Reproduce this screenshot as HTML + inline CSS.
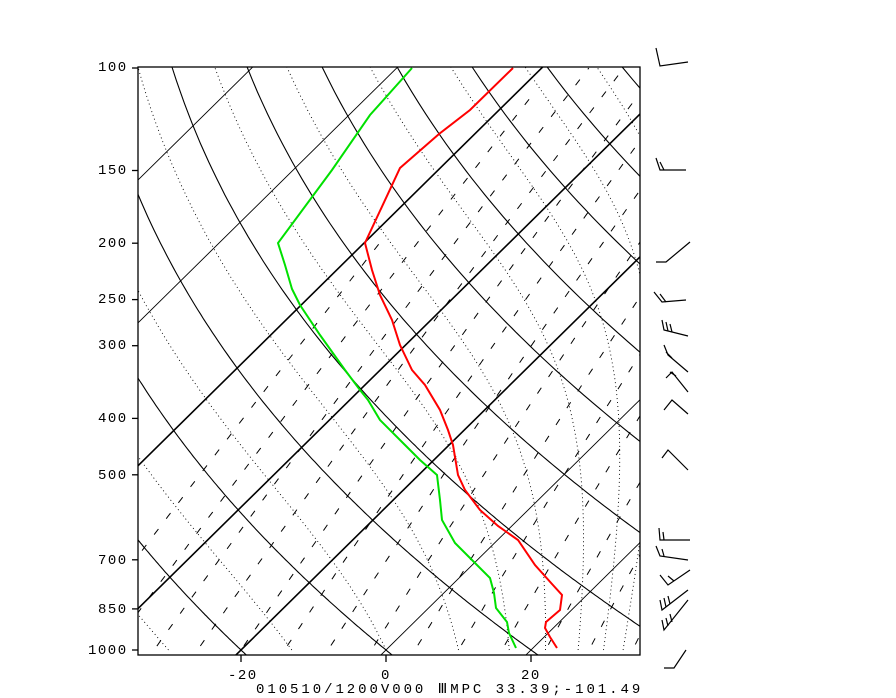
<!DOCTYPE html>
<html><head><meta charset="utf-8">
<style>
html,body{margin:0;padding:0;background:#fff;}
body{width:896px;height:697px;position:relative;overflow:hidden;font-family:"Liberation Mono",monospace;}
.l{position:absolute;font-size:14px;color:#000;letter-spacing:1.5px;line-height:14px;}
</style></head><body>
<svg id="s" width="896" height="697" style="position:absolute;left:0;top:0">
<defs><clipPath id="c"><rect x="138" y="67" width="502" height="588"/></clipPath></defs>
<g id="g" clip-path="url(#c)" fill="none"></g>
<g id="ax" stroke="#000" stroke-width="1.3" fill="none">
<rect x="138" y="67" width="502" height="588"/>
</g>
<g id="b" stroke="#000" stroke-width="1.2" fill="none"></g>
</svg>
<div class="l" style="left:98px;top:61px">100</div>
<div class="l" style="left:98px;top:164px">150</div>
<div class="l" style="left:98px;top:237px">200</div>
<div class="l" style="left:98px;top:293px">250</div>
<div class="l" style="left:98px;top:339px">300</div>
<div class="l" style="left:98px;top:412px">400</div>
<div class="l" style="left:98px;top:469px">500</div>
<div class="l" style="left:98px;top:554px">700</div>
<div class="l" style="left:98px;top:603px">850</div>
<div class="l" style="left:88px;top:644px">1000</div>
<div class="l" style="left:228px;top:669px">-20</div>
<div class="l" style="left:381px;top:669px">0</div>
<div class="l" style="left:521px;top:669px">20</div>
<div class="l" style="left:256px;top:683px;letter-spacing:2.95px">010510/1200V000  ⅢMPC   33.39;-101.49</div>
<script>
var NS="http://www.w3.org/2000/svg";
var g=document.getElementById('g'),ax=document.getElementById('ax'),bg=document.getElementById('b');
var KS=1.015;
function Y(p){return 68+582*Math.log10(p/100);}
function X(T,p){return 386+7.25*T+KS*(650-Y(p));}
function pl(par,pts,attrs){if(pts.length<2)return;var e=document.createElementNS(NS,'polyline');e.setAttribute('points',pts.map(function(a){return a[0].toFixed(1)+','+a[1].toFixed(1)}).join(' '));for(var k in attrs)e.setAttribute(k,attrs[k]);par.appendChild(e);}
for(var T=-160;T<=60;T+=20){var bold=(T==-60||T==-40||T==-20);
pl(g,[[X(T,1050),Y(1050)],[X(T,95),Y(95)]],{stroke:'#000','stroke-width':bold?1.6:0.9});}
for(var th=-180;th<=220;th+=20){var K=th+273.15,pts=[];for(var p=1050;p>=95;p-=5){var t=K*Math.pow(p/1000,0.2857)-273.15;pts.push([X(t,p),Y(p)]);}pl(g,pts,{stroke:'#000','stroke-width':1.1});}
function es(t){return 6.112*Math.exp(17.67*t/(t+243.5));}
[-30,-13,0,10,17,22,26.5,30,32.7,35].forEach(function(t0){
var lp=Math.log(1000),t=t0,arr=[];
for(var i=0;i<600;i++){var P=Math.exp(lp);if(P<95)break;arr.push([X(t,P),Y(P)]);var tk=t+273.15;var e=es(t),rs=0.622*e/(P-e);var L=2.5e6,Rd=287,cp=1004;var d=(Rd*tk+L*rs)/(cp+L*L*rs*0.622/(Rd*tk*tk));var dl=-0.005;t+=d*dl;lp+=dl;}
pl(g,arr,{stroke:'#000','stroke-width':0.9,'stroke-dasharray':'1,3'});});
for(var td=-44;td<=40;td+=6){var e0=es(td),w=622*e0/(1000-e0),arr=[];for(var p=1050;p>=95;p-=10){var e=w*p/(622+w),a=Math.log(e/6.112),t=243.5*a/(17.67-a);if(t<-58)break;arr.push([X(t,p),Y(p)]);}
pl(g,arr,{stroke:'#000','stroke-width':1,'stroke-dasharray':'7,13'});}
var red=[[513,68],[470,110],[439,134],[400,168],[365,243],[372,270],[380,295],[392,320],[400,345],[412,370],[425,385],[440,410],[448,430],[453,445],[458,475],[465,490],[480,510],[498,526],[518,540],[535,565],[552,584],[562,595],[560,610],[546,622],[545,628],[550,637],[557,648]];
var grn=[[412,68],[370,115],[332,170],[278,243],[285,265],[292,289],[300,305],[320,335],[345,370],[360,390],[368,400],[380,420],[405,445],[420,460],[437,475],[440,500],[442,520],[455,543],[470,558],[490,578],[494,593],[496,608],[507,622],[509,633],[516,648]];
pl(g,grn,{stroke:'#00e000','stroke-width':2});
pl(g,red,{stroke:'#ff0000','stroke-width':2});
[100,150,200,250,300,400,500,700,850,1000].forEach(function(p){pl(ax,[[132,Y(p)],[138,Y(p)]],{});});
[-20,0,20].forEach(function(t){var x=386+7.25*t;pl(ax,[[x,655],[x,662]],{});});
var B=[
[[688,62],[660,66],[656,48]],
[[686,170],[660,170],[656,158]],[[664,170],[660,162]],
[[690,242],[666,262],[656,262]],
[[686,300],[662,302],[654,292]],[[666,302],[660,294]],
[[688,336],[664,330],[662,320]],[[668,331],[666,322]],[[672,332],[670,324]],
[[688,372],[668,355],[664,345]],[[672,358],[666,352]],
[[688,392],[672,372],[666,378]],[[676,376],[670,372]],
[[688,414],[672,400],[664,410]],
[[688,470],[668,450],[662,458]],
[[690,540],[660,540],[659,528]],[[664,540],[663,532]],
[[688,560],[660,556],[656,546]],[[664,556],[662,549]],
[[690,570],[668,585],[660,575]],[[674,581],[668,576]],
[[688,590],[662,610],[660,600]],[[666,607],[664,598]],[[670,604],[668,596]],
[[688,600],[664,630],[662,620]],[[668,626],[666,618]],[[672,622],[670,614]],
[[686,650],[674,668],[664,668]]
];
B.forEach(function(b){pl(bg,b,{});});
</script>
</body></html>
